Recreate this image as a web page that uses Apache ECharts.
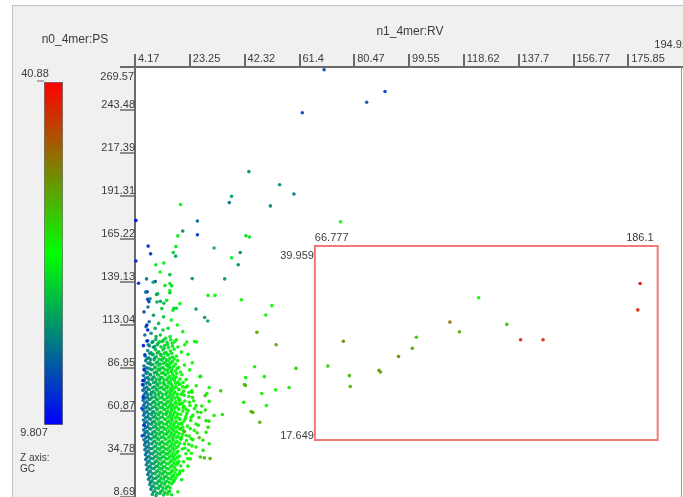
<!DOCTYPE html>
<html><head><meta charset="utf-8">
<script src="https://cdn.jsdelivr.net/npm/echarts@6/dist/echarts.min.js"></script>
<style>html,body{margin:0;padding:0;background:#fff}#c{width:683px;height:497px}</style>
</head><body><div id="c"></div>
<script>
// ---------- axes / labels ----------
const xAxisName = 'n1_4mer:RV';
const yAxisName = 'n0_4mer:PS';
const zAxisName = ['Z axis:', 'GC'];
const xTickValues = [4.17, 23.25, 42.32, 61.4, 80.47, 99.55, 118.62, 137.7, 156.77, 175.85, 194.92];
const xTickLabels = ['4.17', '23.25', '42.32', '61.4', '80.47', '99.55', '118.62', '137.7', '156.77', '175.85', '194.92'];
const yTickValues = [8.69, 34.78, 60.87, 86.95, 113.04, 139.13, 165.22, 191.31, 217.39, 243.48, 269.57];
const yTickLabels = ['8.69', '34.78', '60.87', '86.95', '113.04', '139.13', '165.22', '191.31', '217.39', '243.48', '269.57'];
const gcRange = [9.807, 40.88];
const gcRangeLabels = ['9.807', '40.88'];
// selection box
const boxX = [66.777, 186.1];
const boxXLabels = ['66.777', '186.1'];
const boxY = [43.2, 161.0];
const boxYLabels = ['17.649', '39.959'];

// ---------- points [x, y, GC] ----------
const farPoints = [
[70.0,267.9,14],[91.2,254.7,14],[84.8,248.2,15],[62.4,241.8,14],[43.8,206.1,18],[54.5,198.1,18],[59.5,192.5,17],
[37.8,191.1,20],[37.0,187.3,17],[51.3,185.3,18],[20.0,186.1,25],[4.5,176.5,11],[25.9,176.1,16],[20.8,170.1,18],
[19.1,167.1,24],[25.9,167.8,13],[75.7,175.7,25],[42.8,167.2,23],[44.0,166.4,24],[8.75,160.9,12],[9.6,156.2,13],
[18.4,160.6,24],[17.5,157.0,22],[18.3,154.8,20],[31.7,159.8,21],[40.8,157.0,18],[37.8,153.8,24]
];
const upperPoints = [
[4.5,151.9,12],[40.1,149.6,18],[11.4,149.6,24],[14.2,150.6,24],[12.9,145.2,25],[16.3,143.6,21],[24.1,141.2,19],
[35.4,141.0,19],[11.2,139.4,13],[5.4,138.4,12],[16.3,138.2,24],[16.9,136.8,23],[8.4,133.2,13],[11.7,131.6,18],
[16.3,132.6,22],[29.6,131.0,25],[32.0,131.0,25],[8.6,128.6,13],[9.0,127.2,14],[17.7,123.2,22],[18.6,123.2,23],
[13.0,127.4,20],[14.2,126.2,21],
[8.2,141,17],[10.5,139,20],[14.6,137,24],[7.9,133,16],[12.1,132,21],[16.3,134,25],[9.4,129,18],[11.8,127,20],
[15.2,128,24],[19.8,126,25],[8.7,124,17],[13.5,123,22],[17.4,122,24],[7.3,121,15],[10.6,119,19],[14.1,118,22],
[16.8,116,25],[9.1,115,17],[12.4,114,21],[18.9,113,25],[8.0,112,16],[11.2,111,20],[13.9,110,22],[15.7,111,23],[20.8,109,26],
[7.6,107,16],[9.8,108,18],[11.5,106,20],[13.0,107,22],[14.8,105,23],[16.4,106,24],[18.6,104,25],[10.4,103,19],
[12.2,102,21],[13.7,103,22],[15.5,101,23],[17.2,102,24],[8.8,101,17],[11.0,100,20],[14.3,99,22],[21.5,101,26],[24.9,103,26],
[8.6,103.5,17],[10.1,102.4,19],[11.4,104.2,20],[12.7,102.9,22],[14.0,103.8,22],[15.3,102.6,23],[16.6,104.0,24],[18.0,103.1,25],
[9.2,100.4,18],[10.6,99.5,19],[11.9,101.0,21],[13.2,99.8,22],[14.5,100.7,23],[15.8,99.3,24],[17.2,100.2,24],[19.1,99.7,25]
];
const leftEdgePoints = [
[6.9,79.3,11],[8.3,113.0,12],[8.6,110.0,11],[8.3,103.3,12],[7.6,94.9,13],[7.3,86.0,12],[6.8,76.9,13],[7.0,69.1,12],
[7.3,52.2,13],[6.6,62.5,13],[6.7,45.8,14],[7.1,100.5,11]
];
const clusterPoints = [
[8.6,97.5,18],[9.8,96.2,19],[11.3,98.1,21],[12.4,96.8,22],[13.9,97.9,23],[15.0,96.4,23],[16.5,97.2,24],[17.8,98.3,25],[20.3,96.6,25],
[9.3,95.8,19],[10.5,95.1,20],[11.9,96.0,21],[13.1,95.3,22],[14.4,95.7,23],[15.8,95.0,24],[17.0,95.9,24],
[7.7,94.3,17],[9.0,93.1,18],[10.2,95.0,20],[11.6,93.7,21],[13.2,94.6,22],[14.3,93.2,23],[15.5,94.9,24],[17.3,93.6,24],[18.6,94.1,25],[22.6,95.2,26],
[8.4,92.7,18],[9.6,92.1,19],[11.0,93.0,20],[12.6,92.3,22],[13.8,92.8,23],[15.1,92.0,23],[16.3,92.9,24],[17.8,92.4,25],
[7.9,91.4,17],[9.4,90.2,19],[10.8,91.9,20],[12.0,90.6,21],[13.5,91.7,22],[14.7,90.3,23],[15.9,91.2,24],[17.2,90.8,24],[19.0,91.5,25],[24.1,90.1,26],
[8.7,89.8,18],[10.3,89.1,20],[11.5,90.0,21],[12.9,89.3,22],[14.1,89.7,23],[15.6,89.0,24],[16.6,89.9,24],[18.3,89.4,25],
[7.3,88.2,16],[8.2,87.1,17],[9.7,88.9,19],[11.2,87.5,21],[12.4,88.6,22],[13.9,87.2,23],[15.2,88.4,23],[16.2,87.8,24],[17.6,88.0,25],[19.4,87.3,25],[21.4,88.7,26],
[8.9,86.7,18],[9.8,86.1,19],[11.0,87.0,21],[12.2,86.3,22],[13.2,86.8,22],[14.6,86.0,23],[15.9,86.9,24],[17.0,86.4,24],[18.8,86.6,25],
[7.6,85.3,17],[8.5,84.4,18],[10.1,85.9,20],[11.6,84.7,21],[12.7,85.6,22],[14.0,84.2,23],[15.4,85.4,24],[16.8,84.9,24],[18.2,85.1,25],[20.0,84.5,25],[23.2,85.8,26],
[8.1,83.7,17],[9.4,83.1,19],[10.9,84.0,20],[11.9,83.3,21],[13.4,83.8,23],[14.6,83.0,23],[15.7,83.9,24],[17.2,83.4,25],[18.7,83.6,25],
[7.1,82.4,16],[8.6,81.3,18],[9.6,82.8,19],[10.8,81.6,20],[12.3,82.5,22],[13.5,81.2,22],[14.8,82.7,23],[16.2,81.8,24],[17.5,82.2,25],[18.5,81.5,25],[20.5,82.9,26],[26.8,81.7,27],
[7.8,80.7,17],[9.1,80.1,18],[10.4,81.0,20],[11.6,80.3,21],[13.0,80.8,22],[14.3,80.0,23],[15.6,80.9,24],[16.9,80.4,24],[18.0,80.6,25],[19.8,80.2,25],
[7.4,79.2,16],[8.7,78.3,18],[10.1,79.8,19],[11.3,78.6,21],[12.6,79.5,22],[14.1,78.1,23],[15.3,79.6,23],[16.4,78.7,24],[17.9,79.3,25],[19.1,78.4,25],[22.0,79.9,26],
[8.0,77.7,17],[9.3,77.1,19],[10.6,78.0,20],[11.8,77.3,21],[12.9,77.8,22],[14.3,77.0,23],[15.8,77.9,24],[16.7,77.4,24],[18.3,77.6,25],[19.8,77.2,25],
[7.0,76.5,16],[8.3,75.4,17],[9.4,76.8,19],[10.9,75.6,20],[12.1,76.3,21],[13.5,75.2,22],[14.6,76.7,23],[15.6,75.8,24],[17.1,76.1,24],[18.4,75.5,25],[19.6,76.9,25],[21.8,75.3,26],[25.5,76.2,26],
[7.5,74.7,16],[8.8,74.1,18],[10.3,75.0,20],[11.5,74.3,21],[12.8,74.8,22],[14.1,74.0,23],[15.2,74.9,23],[16.5,74.4,24],[17.7,74.6,25],[19.3,74.2,25],
[6.9,73.4,16],[8.1,72.5,17],[9.2,73.9,19],[10.6,72.6,20],[11.9,73.5,21],[13.0,72.2,22],[14.4,73.7,23],[15.7,72.8,24],[16.9,73.2,24],[18.0,72.4,25],[19.5,73.8,25],[21.1,72.9,26],[23.9,73.1,26],
[7.7,71.7,16],[8.6,71.1,18],[9.9,72.0,19],[11.2,71.3,21],[12.5,71.8,22],[13.8,71.0,22],[15.1,71.9,23],[16.4,71.4,24],[17.7,71.6,25],[19.0,71.2,25],[20.6,71.8,26],
[7.2,70.3,16],[8.5,69.4,17],[9.7,70.8,19],[11.1,69.6,20],[12.3,70.5,22],[13.6,69.2,22],[14.9,70.7,23],[16.0,69.8,24],[17.3,70.1,24],[18.8,69.5,25],[20.2,70.9,26],[22.9,69.7,26],[28.6,70.2,28],
[7.8,68.7,17],[9.0,68.1,18],[10.2,69.0,20],[11.6,68.3,21],[12.9,68.8,22],[14.2,68.0,23],[15.4,68.9,23],[16.7,68.4,24],[18.0,68.6,25],[19.3,68.2,25],
[7.0,67.4,16],[8.3,66.5,17],[9.4,67.9,19],[10.8,66.6,20],[12.0,67.5,21],[13.4,66.2,22],[14.6,67.7,23],[15.8,66.8,24],[17.0,67.2,24],[18.4,66.4,25],[19.7,67.8,25],[21.5,66.9,26],[24.6,67.1,26],
[7.6,65.7,16],[8.9,65.1,18],[10.4,66.0,20],[11.5,65.3,21],[12.7,65.8,22],[14.1,65.0,23],[15.3,65.9,23],[16.6,65.4,24],[18.1,65.6,25],[19.5,65.2,25],
[7.2,64.3,16],[8.4,63.4,17],[9.7,64.8,19],[11.0,63.6,20],[12.3,64.5,22],[13.6,63.2,22],[14.8,64.7,23],[16.1,63.8,24],[17.3,64.1,24],[18.6,63.5,25],[19.9,64.9,25],[21.2,63.7,26],[23.3,64.2,26],[27.4,63.9,27],
[7.8,62.7,17],[9.1,62.1,18],[10.3,63.0,20],[11.7,62.3,21],[12.9,62.8,22],[14.2,62.0,23],[15.5,62.9,24],[16.8,62.4,24],[17.9,62.6,25],[19.3,62.2,25],[20.9,62.8,26],
[7.0,61.4,16],[8.3,60.5,17],[9.5,61.9,19],[10.6,60.6,20],[11.9,61.5,21],[13.2,60.2,22],[14.5,61.7,23],[15.6,60.8,24],[16.9,61.2,24],[18.1,60.4,25],[19.4,61.8,25],[20.8,60.9,26],[22.7,61.1,26],[25.9,60.3,27],
[7.5,59.7,16],[8.8,59.1,18],[10.2,60.0,19],[11.4,59.3,21],[12.7,59.8,22],[14.0,59.0,23],[15.2,59.9,23],[16.5,59.4,24],[17.8,59.6,25],[19.0,59.2,25],
[7.2,58.3,16],[8.6,57.4,17],[9.9,58.8,19],[11.1,57.6,20],[12.4,58.5,22],[13.7,57.2,22],[15.0,58.7,23],[16.2,57.8,24],[17.4,58.1,24],[18.8,57.5,25],[20.1,58.9,26],[21.9,57.7,26],[24.3,58.2,26],
[7.9,56.7,17],[9.2,56.1,18],[10.5,57.0,20],[11.7,56.3,21],[13.0,56.8,22],[14.4,56.0,23],[15.6,56.9,24],[16.9,56.4,24],[18.2,56.6,25],[19.6,56.2,25],
[7.1,55.4,16],[8.3,54.5,17],[9.6,55.9,19],[10.9,54.6,20],[12.2,55.5,22],[13.4,54.2,22],[14.7,55.7,23],[15.9,54.8,24],[17.1,55.2,24],[18.5,54.4,25],[19.8,55.8,25],[21.3,54.9,26],[23.6,55.1,26],[29.9,54.7,28],
[7.6,53.7,16],[8.9,53.1,18],[10.2,54.0,19],[11.5,53.3,21],[12.8,53.8,22],[14.1,53.0,23],[15.4,53.9,23],[16.7,53.4,24],[18.0,53.6,25],[19.4,53.2,25],
[7.3,52.3,16],[8.6,51.4,17],[9.9,52.8,19],[11.2,51.6,20],[12.5,52.5,22],[13.9,51.2,23],[15.1,52.7,23],[16.3,51.8,24],[17.6,52.1,24],[18.9,51.5,25],[20.4,52.9,26],[22.4,51.7,26],[26.2,52.2,27],
[7.9,50.7,16],[9.3,50.1,18],[10.6,51.0,20],[11.8,50.3,21],[13.1,50.8,22],[14.4,50.0,23],[15.7,50.9,24],[17.0,50.4,24],[18.3,50.6,25],[19.7,50.2,25],
[7.2,49.4,16],[8.4,48.5,17],[9.7,49.9,19],[11.0,48.6,20],[12.3,49.5,22],[13.6,48.2,22],[14.8,49.7,23],[16.1,48.8,24],[17.4,49.2,24],[18.7,48.4,25],[20.0,49.8,26],[21.0,48.9,26],[24.8,49.1,26],
[7.7,47.7,16],[9.0,47.1,18],[10.4,48.0,20],[11.6,47.3,21],[12.9,47.8,22],[14.3,47.0,23],[15.5,47.9,23],[16.8,47.4,24],[18.1,47.6,25],[19.5,47.2,25],
[7.4,46.3,16],[8.7,45.4,17],[10.0,46.8,19],[11.3,45.6,20],[12.6,46.5,22],[13.9,45.2,22],[15.1,46.7,23],[16.4,45.8,24],[17.7,46.1,24],[19.0,45.5,25],[20.7,46.9,26],[23.0,45.7,26],
[8.0,44.7,17],[9.3,44.1,18],[10.7,45.0,20],[12.0,44.3,21],[13.3,44.8,22],[14.6,44.0,23],[15.9,44.9,24],[17.2,44.4,24],[18.5,44.6,25],[19.9,44.2,25],
[7.3,43.4,16],[8.5,42.5,17],[9.8,43.9,19],[11.1,42.6,20],[12.4,43.5,22],[13.7,42.2,22],[14.9,43.7,23],[16.2,42.8,24],[17.5,43.2,24],[18.8,42.4,25],[20.2,43.8,26],[22.1,42.9,26],[27.8,43.1,27],
[7.8,41.7,16],[9.1,41.1,18],[10.5,42.0,20],[11.8,41.3,21],[13.1,41.8,22],[14.4,41.0,23],[15.7,41.9,24],[17.0,41.4,24],[18.3,41.6,25],[19.7,41.2,25],
[7.5,40.3,16],[8.7,39.4,17],[10.0,40.8,19],[11.3,39.6,20],[12.7,40.5,22],[14.0,39.2,22],[15.2,40.7,23],[16.5,39.8,24],[17.8,40.1,24],[19.2,39.5,25],[21.4,40.9,26],[24.0,39.7,26],
[8.1,38.7,17],[9.4,38.1,18],[10.8,39.0,20],[12.1,38.3,21],[13.4,38.8,22],[14.7,38.0,23],[16.0,38.9,24],[17.3,38.4,24],[18.6,38.6,25],
[7.6,37.4,16],[8.8,36.5,17],[10.1,37.9,19],[11.4,36.6,20],[12.7,37.5,22],[14.0,36.2,22],[15.3,37.7,23],[16.5,36.8,24],[17.8,37.2,24],[19.1,36.4,25],[20.6,37.8,26],[22.8,36.9,26],
[8.2,35.7,17],[9.6,35.1,18],[10.9,36.0,20],[12.2,35.3,21],[13.5,35.8,22],[14.8,35.0,23],[16.1,35.9,24],[17.4,35.4,24],[18.8,35.6,25],
[7.8,34.3,16],[9.0,33.4,18],[10.3,34.8,19],[11.6,33.6,20],[12.9,34.5,22],[14.2,33.2,22],[15.5,34.7,23],[16.8,33.8,24],[18.1,34.1,25],[19.6,33.5,25],[21.9,34.9,26],
[8.4,32.7,17],[9.7,32.1,19],[11.0,33.0,20],[12.3,32.3,21],[13.6,32.8,22],[14.9,32.0,23],[16.2,32.9,24],[17.5,32.4,24],[18.9,32.6,25],
[7.9,31.4,16],[9.1,30.5,18],[10.4,31.9,19],[11.7,30.6,21],[13.0,31.5,22],[14.3,30.2,23],[15.5,31.7,23],[16.8,30.8,24],[18.1,31.2,25],[19.4,30.4,25],[23.4,31.8,26],
[8.6,29.7,17],[9.9,29.1,19],[11.2,30.0,20],[12.5,29.3,21],[13.8,29.8,22],[15.1,29.0,23],[16.4,29.9,24],[17.7,29.4,24],[19.0,29.6,25],
[8.1,28.3,17],[9.4,27.4,18],[10.7,28.8,20],[12.0,27.6,21],[13.3,28.5,22],[14.6,27.2,23],[15.8,28.7,24],[17.1,27.8,24],[18.4,28.1,25],[20.1,27.5,25],
[8.8,26.7,18],[10.1,26.1,19],[11.4,27.0,20],[12.7,26.3,22],[14.0,26.8,22],[15.3,26.0,23],[16.6,26.9,24],[17.9,26.4,25],
[8.3,25.4,17],[9.5,24.5,18],[10.8,25.9,20],[12.1,24.6,21],[13.4,25.5,22],[14.6,24.2,23],[15.9,25.7,24],[17.2,24.8,24],[18.5,25.2,25],[19.8,24.4,25],
[9.0,23.7,18],[10.3,23.1,19],[11.6,24.0,21],[12.9,23.3,22],[14.2,23.8,22],[15.5,23.0,23],[16.8,23.9,24],[18.1,23.4,25],
[8.6,22.3,17],[9.8,21.4,19],[11.1,22.8,20],[12.4,21.6,21],[13.7,22.5,22],[15.0,21.2,23],[16.3,22.7,24],[17.6,21.8,24],[19.0,22.1,25],
[9.3,20.7,18],[10.6,20.1,19],[11.9,21.0,21],[13.2,20.3,22],[14.5,20.8,22],[15.8,20.0,23],[17.1,20.9,24],[18.4,20.3,25],
[8.9,19.4,18],[10.1,18.5,19],[11.4,19.9,20],[12.7,18.6,21],[14.0,19.5,22],[15.3,18.2,23],[16.6,19.7,24],[17.8,18.8,24],[20.4,19.2,25],
[9.6,17.7,18],[10.9,17.1,20],[12.2,18.0,21],[13.5,17.3,22],[14.8,17.8,23],[16.1,17.4,24],[17.5,17.9,24],
[9.3,16.3,18],[10.5,15.4,19],[11.8,16.8,21],[13.1,15.6,22],[14.4,16.5,22],[15.7,15.2,23],[17.0,16.7,24],
[10.0,14.7,19],[11.3,14.1,20],[12.6,15.0,21],[13.9,14.3,22],[15.2,14.8,23],[16.4,14.2,24],
[9.7,13.4,18],[11.0,12.5,20],[12.3,13.9,21],[13.6,12.6,22],[14.9,13.5,23],[16.2,12.2,24],
[10.5,11.7,19],[11.8,11.1,20],[13.1,11.9,22],[14.5,11.3,22],[15.8,11.8,23],
[10.2,10.2,19],[11.5,9.6,20],[12.8,10.8,21],[14.1,9.9,22],[15.5,10.5,23],[16.9,10.1,24]
];
const spreadPoints = [
[20.8,75.5,26],[22.9,72.1,26],[24.2,69.1,27],[19.7,67.1,26],[25.4,64.1,26],[22.0,62.0,26],[27.1,60.0,27],[23.7,57.0,26],
[28.9,55.0,27],[25.4,53.0,26],[20.8,51.0,26],[21.4,48.4,30],[26.5,44.6,30],[23.7,44.0,26],[28.9,48.0,27],[31.7,58.1,27],
[34.6,58.7,27],[30.0,66.7,26],[34.0,73.1,29],[42.0,66.1,27],[30.0,41.0,27],[22.5,32.0,26],[26.9,33.0,29],[30.3,32.0,30],
[28.3,32.4,29],[19.1,29.0,26],[19.7,22.9,26],[17.4,19.0,25],[19.1,11.9,26],[25.4,39.0,26],[27.9,37.0,27],
[41.2,128.4,26],[51.8,124.8,26],[25.4,122.7,19],[49.7,119.1,26],[28.4,117.6,19],[29.5,115.5,20],[46.6,108.6,31],
[22.2,102.7,25],[25.6,102.7,25],[53.3,101.1,31],[45.8,87.7,27],[60.2,86.7,28],[42.7,81.1,26],[49.2,81.7,26],
[42.3,76.9,30],[42.6,76.4,30],[57.8,75.1,27],[53.1,73.7,26],[48.3,71.5,27],[30.0,75.1,26],[27.0,81.9,26],[49.9,64.2,26],
[45.2,60.0,30],[44.6,60.6,30],[47.6,54.0,30],[29.6,51.0,27],[28.7,61.4,27],[29.2,71.5,27],
[20.9,78.2,25],[22.4,76.0,26],[21.3,70.3,25],[23.1,66.2,26],[20.6,65.5,25],[22.2,59.4,26],[24.9,62.4,26],[21.7,56.3,25],
[20.5,53.6,25],[23.4,50.2,26],[22.0,46.0,26],[24.3,43.5,26],[21.5,38.3,25],[23.8,35.2,26],[21.1,30.1,25],[22.6,27.4,26],
[20.8,24.6,25],[25.8,47.6,27],[26.4,56.9,27],[24.0,72.3,26],[20.4,45.1,25],[22.9,40.7,26]
];
const boxPoints = [
[71.3,88.1,28],[76.7,103.2,33],[78.8,82.3,30],[79.1,75.7,30],[89.1,85.5,31],[89.6,84.5,31],[95.9,93.9,33],
[100.7,98.9,31],[102.1,105.6,28],[113.8,114.8,34],[117.1,108.9,30],[123.8,129.6,26],[133.6,113.4,29],
[138.4,104.1,38],[146.2,104.1,38],[180.0,138.2,40],[179.2,122.2,39]
];

const FONT = 'Liberation Sans, Arial, sans-serif';
const TXT = '#3c3c3c';
const AX = '#6a6a6a';
const chart = echarts.init(document.getElementById('c'), null, {renderer: 'canvas'});
const xLab = v => { const i = xTickValues.indexOf(v); return i >= 0 ? xTickLabels[i] : ''; };
const yLab = v => { const i = yTickValues.indexOf(v); return i >= 0 ? yTickLabels[i] : ''; };
const scatter = (name, data, extra) => Object.assign({
  name, type: 'scatter', data, symbolSize: 3.6, silent: true, animation: false,
  itemStyle: {opacity: 0.92}
}, extra || {});

chart.setOption({
  backgroundColor: '#f0f0f0',
  animation: false,
  grid: {left: 135, top: 67, width: 552, height: 434, show: true, backgroundColor: '#ffffff', borderWidth: 0},
  xAxis: {
    type: 'value', position: 'top', min: xTickValues[0], max: xTickValues[xTickValues.length - 1],
    axisLine: {show: true, lineStyle: {color: AX, width: 2}},
    axisTick: {show: true, customValues: xTickValues.slice(0, -1), length: 13, lineStyle: {color: AX, width: 2}},
    axisLabel: {customValues: xTickValues.slice(0, -1), formatter: xLab, align: 'left', margin: 3, padding: [0, 0, 0, 3],
      color: TXT, fontSize: 11, fontFamily: FONT},
    splitLine: {show: false}
  },
  yAxis: {
    type: 'value', min: yTickValues[0], max: yTickValues[yTickValues.length - 1],
    axisLine: {show: true, lineStyle: {color: AX, width: 2}},
    axisTick: {show: true, customValues: yTickValues, length: 15, lineStyle: {color: AX, width: 1.5}},
    axisLabel: {customValues: yTickValues.slice(0, -1), formatter: yLab, align: 'right', verticalAlign: 'bottom', margin: 0,
      color: TXT, fontSize: 11, fontFamily: FONT},
    splitLine: {show: false}
  },
  visualMap: {
    type: 'continuous', min: gcRange[0], max: gcRange[1], dimension: 2,
    inRange: {color: ['#0000ff', '#00ff00', '#ff0000']},
    left: 44, top: 82, itemWidth: 18, itemHeight: 342, calculable: false, hoverLink: false,
    text: null, padding: 0, borderColor: '#555', borderWidth: 1, showLabel: false
  },
  series: [
    scatter('cluster', clusterPoints),
    scatter('upper', upperPoints),
    scatter('left', leftEdgePoints),
    scatter('spread', spreadPoints),
    scatter('far', farPoints),
    scatter('box', boxPoints, {
      markArea: {silent: true, itemStyle: {color: 'rgba(0,0,0,0)', borderColor: '#f27878', borderWidth: 2},
        data: [[{coord: [boxX[0], boxY[1]]}, {coord: [boxX[1], boxY[0]]}]]}
    })
  ]
});

const px = (x, y) => chart.convertToPixel({gridIndex: 0}, [x, y]);
const tl = px(boxX[0], boxY[1]);
const br = px(boxX[1], boxY[0]);
const topY = px(xTickValues[0], yTickValues[yTickValues.length - 1]);
const lastX = px(xTickValues[xTickValues.length - 1], yTickValues[0]);
const txt = (x, y, text, align, size) => ({type: 'text', z: 100, x, y,
  style: {text, fill: TXT, font: (size || 11) + 'px ' + FONT, textAlign: align || 'left', textVerticalAlign: 'middle'}});
const line = (x1, y1, x2, y2, color, w) => ({type: 'line', z: 100, shape: {x1, y1, x2, y2},
  style: {stroke: color || AX, lineWidth: w || 1}});

chart.setOption({
  graphic: [
    {type: 'rect', z: 90, shape: {x: 0, y: 0, width: 683, height: 5}, style: {fill: '#ffffff'}},
    {type: 'rect', z: 90, shape: {x: 0, y: 0, width: 12, height: 497}, style: {fill: '#ffffff'}},
    line(12.5, 5, 12.5, 497, '#b9c3cc', 1),
    line(12, 5.5, 683, 5.5, '#b9c3cc', 1),
    line(681.5, topY[1], 681.5, 497, '#9a9a9a', 1),
    line(120, topY[1], topY[0], topY[1], AX, 2),
    txt(75, 40, yAxisName, 'center', 12),
    txt(410, 32, xAxisName, 'center', 12),
    txt(35, 74, gcRangeLabels[1], 'center', 11),
    line(37, 81, 44, 81, AX, 1),
    txt(34, 433, gcRangeLabels[0], 'center', 11),
    txt(20, 458, zAxisName[0], 'left', 10),
    txt(20, 469, zAxisName[1], 'left', 10),
    txt(topY[0] - 1, topY[1] + 10, yTickLabels[yTickLabels.length - 1], 'right', 11),
    txt(lastX[0] + 5, 45, xTickLabels[xTickLabels.length - 1], 'right', 11),
    txt(tl[0], tl[1] - 8, boxXLabels[0], 'left', 11),
    txt(br[0] - 4, tl[1] - 8, boxXLabels[1], 'right', 11),
    txt(tl[0] - 1, tl[1] + 10, boxYLabels[1], 'right', 11),
    txt(tl[0] - 1, br[1] - 4, boxYLabels[0], 'right', 11)
  ]
});
</script>
</body></html>
